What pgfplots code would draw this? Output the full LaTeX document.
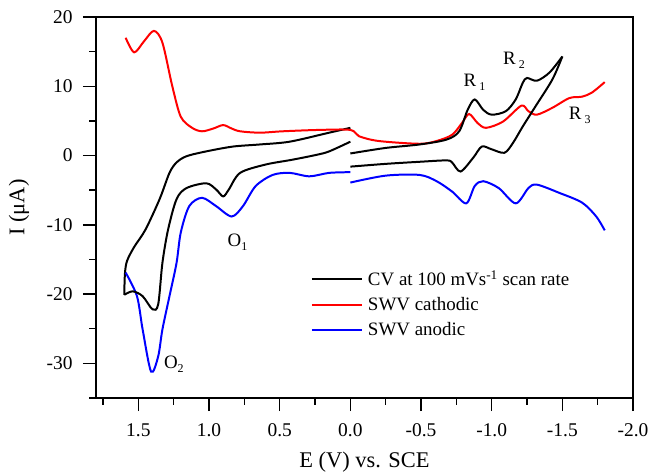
\documentclass[border=0pt]{standalone}
\usepackage{fontspec}
\setmainfont{Liberation Serif}
\usepackage{pgfplots}
\pgfplotsset{compat=1.18}
\begin{document}
\begin{tikzpicture}
\begin{axis}[
  scale only axis,
  width=537bp, height=381bp,
  x dir=reverse,
  xmin=-2.0, xmax=1.8,
  ymin=-35, ymax=20,
  xtick={-2,-1.5,-1,-0.5,0,0.5,1,1.5},
  minor xtick={-1.75,-1.25,-0.75,-0.25,0.25,0.75,1.25,1.75},
  ytick={-30,-20,-10,0,10,20},
  minor ytick={-35,-25,-15,-5,5,15},
  xtick pos=bottom, ytick pos=left,
  tick align=outside,
  major tick length=13bp, minor tick length=6.5bp,
  every tick/.style={line width=1.5pt, black},
  axis line style={line width=1.5pt},
  /pgf/number format/assume math mode=true,
  xticklabel style={yshift=-9bp, /pgf/number format/.cd, fixed, fixed zerofill, precision=1},
  yticklabel style={xshift=-7bp, /pgf/number format/.cd, fixed, precision=0},
  tick label style={font=\fontsize{19.5}{19.5}\selectfont},
  legend style={draw=none, fill=none, at={(rel axis cs:0.40,0.34)}, anchor=north west,
    inner sep=0pt, font=\fontsize{19}{19}\selectfont, row sep=6.5bp, cells={anchor=west},
    /tikz/every odd column/.append style={column sep=3bp}},
  legend image code/.code={\draw[#1, line width=2pt] (0bp,0bp) -- (50bp,0bp);},
  every axis plot/.append style={line width=2pt},
]
% CV left loop
\addplot[black, smooth, tension=0.5] coordinates {
(0,4.0) (0.15,3.3) (0.43,2.0) (0.64,1.6) (0.83,1.3) (1.02,0.6) (1.16,-0.1) (1.23,-1.0) (1.28,-2.5) (1.35,-6.3) (1.45,-10.7) (1.53,-13.2) (1.58,-15.2) (1.595,-17.0) (1.60,-20.1)};
\addlegendentry{CV at 100 mVs\textsuperscript{-1} scan rate}
\addplot[red, smooth, tension=0.5] coordinates {
(1.59,17.0) (1.53,14.9) (1.46,16.5) (1.39,18.0) (1.33,16.3) (1.26,10.0) (1.20,5.6) (1.12,4.0) (1.05,3.5) (0.97,3.9) (0.90,4.4) (0.84,3.9) (0.78,3.5) (0.64,3.3) (0.48,3.5) (0.22,3.7) (0.0,3.7) (-0.06,2.8) (-0.2,2.1) (-0.49,1.7) (-0.61,2.1) (-0.72,3.0) (-0.79,4.7) (-0.84,6.0) (-0.90,4.7) (-0.96,4.0) (-1.08,4.9) (-1.21,7.2) (-1.26,6.4) (-1.32,5.9) (-1.43,6.9) (-1.55,8.3) (-1.64,8.5) (-1.71,9.1) (-1.80,10.6)};
\addlegendentry{SWV cathodic}
\addplot[blue, smooth, tension=0.5] coordinates {
(1.59,-16.9) (1.51,-20.3) (1.47,-25.1) (1.41,-31.2) (1.36,-29.0) (1.33,-25.1) (1.28,-20.3) (1.23,-15.5) (1.20,-11.1) (1.14,-7.3) (1.05,-6.1) (0.95,-7.3) (0.84,-8.8) (0.76,-7.3) (0.67,-4.4) (0.55,-2.8) (0.43,-2.5) (0.29,-3.0) (0.15,-2.5) (0.0,-2.4)};
\addlegendentry{SWV anodic}
\addplot[blue, smooth, tension=0.5, forget plot] coordinates {
(0,-3.9) (-0.25,-2.9) (-0.49,-2.8) (-0.61,-3.7) (-0.72,-5.2) (-0.82,-6.9) (-0.88,-4.4) (-0.94,-3.7) (-1.05,-4.7) (-1.17,-6.9) (-1.26,-4.7) (-1.32,-4.2) (-1.48,-5.4) (-1.64,-6.8) (-1.74,-8.8) (-1.80,-10.8)};
\addplot[black, smooth, tension=0.5, forget plot] coordinates {
(1.60,-20.1) (1.54,-19.6) (1.47,-20.3) (1.40,-22.2) (1.36,-21.5) (1.33,-15.5) (1.29,-10.7) (1.23,-6.3) (1.16,-4.7) (1.02,-4.0) (0.95,-4.9) (0.90,-5.9) (0.86,-4.9) (0.78,-2.5) (0.60,-1.3) (0.41,-0.6) (0.24,0.1) (0.15,0.6) (0,2.0)};
% CV right loop
\addplot[black, smooth, tension=0.5, forget plot] coordinates {
(0,0.3) (-0.25,1.1) (-0.49,1.6) (-0.68,2.3) (-0.77,3.5) (-0.83,6.6) (-0.88,8.1) (-0.94,6.6) (-1.0,5.9) (-1.10,6.4) (-1.17,8.1) (-1.22,10.5) (-1.25,11.2) (-1.32,10.8) (-1.41,12.0) (-1.50,14.3)};
\addplot[black, smooth, tension=0.5, forget plot] coordinates {
(-1.50,14.3) (-1.43,11.0) (-1.31,7.1) (-1.22,4.2) (-1.15,1.8) (-1.09,0.4) (-1.0,0.9) (-0.93,1.3) (-0.87,-0.3) (-0.78,-2.3) (-0.72,-1.0) (-0.68,-0.7) (-0.49,-0.9) (-0.25,-1.2) (0,-1.6)};
% annotations
\node[anchor=base west, font=\fontsize{19}{19}\selectfont, inner sep=0pt] at (axis cs:-0.80,10.0) {R\,\raisebox{-0.45ex}{\fontsize{12}{12}\selectfont 1}};
\node[anchor=base west, font=\fontsize{19}{19}\selectfont, inner sep=0pt] at (axis cs:-1.08,13.2) {R\,\raisebox{-0.45ex}{\fontsize{12}{12}\selectfont 2}};
\node[anchor=base west, font=\fontsize{19}{19}\selectfont, inner sep=0pt] at (axis cs:-1.545,5.2) {R\,\raisebox{-0.45ex}{\fontsize{12}{12}\selectfont 3}};
\node[anchor=base west, font=\fontsize{19}{19}\selectfont, inner sep=0pt] at (axis cs:0.87,-13.2) {O\raisebox{-0.45ex}{\fontsize{12}{12}\selectfont 1}};
\node[anchor=base west, font=\fontsize{19}{19}\selectfont, inner sep=0pt] at (axis cs:1.32,-30.8) {O\raisebox{-0.45ex}{\fontsize{12}{12}\selectfont 2}};
\end{axis}
\node[font=\fontsize{22.5}{22.5}\selectfont] at ([yshift=-64bp]current axis.south) {E (V) vs. SCE};
\node[font=\fontsize{22.5}{22.5}\selectfont, rotate=90] at ([xshift=-77bp]current axis.west) {I (μA)};
\pgfresetboundingbox
\path[use as bounding box] ([xshift=-96bp,yshift=-74bp]current axis.south west) rectangle ++(651bp,472bp);
\end{tikzpicture}
\end{document}
